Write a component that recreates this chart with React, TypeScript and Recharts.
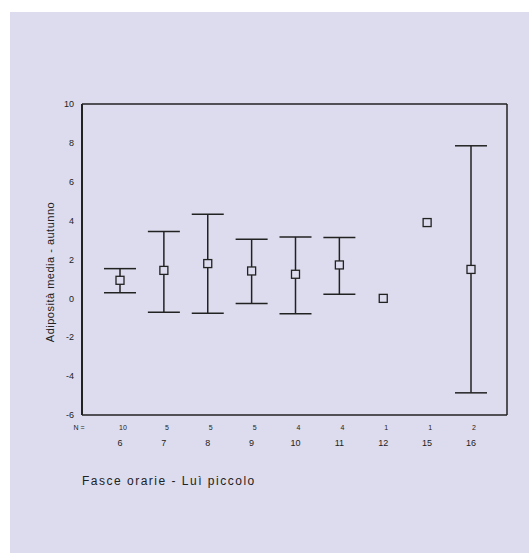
import React from "react";
import { ComposedChart, Scatter, ErrorBar, XAxis, YAxis } from "recharts";

// fasce orarie (categorie) e numerosità
const fasce = ["6", "7", "8", "9", "10", "11", "12", "15", "16"];
const numerosita = [10, 5, 5, 5, 4, 4, 1, 1, 2];
// adiposità media e limiti dell'intervallo (null = un solo caso)
const medie = [0.93, 1.44, 1.79, 1.41, 1.24, 1.72, 0.0, 3.9, 1.49];
const limInf = [0.29, -0.71, -0.77, -0.26, -0.79, 0.21, null, null, -4.86];
const limSup = [1.53, 3.44, 4.33, 3.04, 3.16, 3.13, null, null, 7.85];
const yTicks = [-6, -4, -2, 0, 2, 4, 6, 8, 10];

const data = fasce.map((f, i) => ({
  fascia: f,
  n: numerosita[i],
  media: medie[i],
  err:
    limInf[i] == null || limSup[i] == null
      ? null
      : [medie[i] - (limInf[i] as number), (limSup[i] as number) - medie[i]],
}));

const BG = "#dcdcee";
const INK = "#222";

function SquareDot(props: any) {
  const { cx, cy } = props;
  if (cx == null || cy == null) return null;
  return (
    <rect x={cx - 4} y={cy - 4} width={8} height={8} fill={BG} stroke={INK} strokeWidth={1.3} />
  );
}

function FasciaTick(props: any) {
  const { x, y, payload, index } = props;
  const n = data[index]?.n;
  return (
    <g>
      {index === 0 && (
        <text x={x - 41} y={y + 7} fontSize={7} fill={INK} textAnchor="middle" fontFamily="Arial, sans-serif">
          N =
        </text>
      )}
      <text x={x + 3} y={y + 7} fontSize={7} fill={INK} textAnchor="middle" fontFamily="Arial, sans-serif">
        {n}
      </text>
      <text x={x} y={y + 23} fontSize={9} fill={INK} textAnchor="middle" fontFamily="Arial, sans-serif">
        {payload.value}
      </text>
    </g>
  );
}

export default function App() {
  return (
    <div style={{ position: "absolute", left: 0, top: 0, width: 529, height: 553, background: "#fff" }}>
      <div style={{ position: "absolute", left: 10, top: 12, width: 519, height: 541, background: BG }} />
      <div style={{ position: "absolute", left: 0, top: 0 }}>
        <ComposedChart
          width={529}
          height={553}
          data={data}
          margin={{ top: 103, right: 21, left: 62, bottom: 98 }}
        >
          <XAxis
            dataKey="fascia"
            type="category"
            padding={{ left: 38, right: 36 }}
            height={40}
            tickLine={false}
            axisLine={{ stroke: INK, strokeWidth: 1.5 }}
            tick={<FasciaTick />}
            interval={0}
          />
          <XAxis
            xAxisId="top"
            orientation="top"
            dataKey="fascia"
            type="category"
            height={1}
            tick={false}
            tickLine={false}
            axisLine={{ stroke: INK, strokeWidth: 1.5 }}
          />
          <YAxis
            type="number"
            domain={[-6, 10]}
            ticks={yTicks}
            width={20}
            tickLine={false}
            axisLine={{ stroke: INK, strokeWidth: 2 }}
            tick={{ fontSize: 9, fill: INK, fontFamily: "Arial, sans-serif" }}
            interval={0}
          />
          <YAxis
            yAxisId="right"
            orientation="right"
            type="number"
            domain={[-6, 10]}
            width={1}
            tick={false}
            tickLine={false}
            axisLine={{ stroke: INK, strokeWidth: 1.5 }}
          />
          <Scatter dataKey="media" shape={<SquareDot />} isAnimationActive={false}>
            <ErrorBar dataKey="err" direction="y" width={16} stroke={INK} strokeWidth={1.5} isAnimationActive={false} />
          </Scatter>
        </ComposedChart>
      </div>
      <div
        style={{
          position: "absolute",
          left: 50,
          top: 272,
          transform: "translate(-50%, -50%) rotate(-90deg)",
          whiteSpace: "nowrap",
          fontFamily: "Arial, sans-serif",
          fontSize: 11,
          letterSpacing: 0.5,
          color: INK,
        }}
      >
        Adiposità media - autunno
      </div>
      <div
        style={{
          position: "absolute",
          left: 82,
          top: 474,
          whiteSpace: "nowrap",
          fontFamily: "Arial, sans-serif",
          fontSize: 12,
          letterSpacing: 1.5,
          color: INK,
        }}
      >
        Fasce orarie - Luì piccolo
      </div>
    </div>
  );
}
